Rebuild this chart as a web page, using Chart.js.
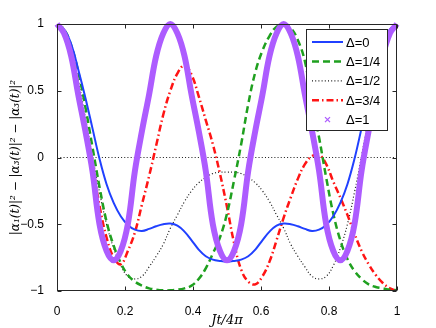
<!DOCTYPE html>
<html>
<head>
<meta charset="utf-8">
<script src="https://cdn.jsdelivr.net/npm/chart.js@4.4.1/dist/chart.umd.min.js"></script>
<style>
    html, body { margin: 0; padding: 0; background: #fff; }
    canvas { display: block; }
</style>
</head>
<body>
<canvas id="chart" width="436" height="328"></canvas>
<script>
// sample times Jt/4pi (every 1/48)
const tValues = [0, 0.0208, 0.0417, 0.0625, 0.0833, 0.1042, 0.125, 0.1458, 0.1667, 0.1875, 0.2083, 0.2292,
    0.25, 0.2708, 0.2917, 0.3125, 0.3333, 0.3542, 0.375, 0.3958, 0.4167, 0.4375, 0.4583, 0.4792,
    0.5, 0.5208, 0.5417, 0.5625, 0.5833, 0.6042, 0.625, 0.6458, 0.6667, 0.6875, 0.7083, 0.7292,
    0.75, 0.7708, 0.7917, 0.8125, 0.8333, 0.8542, 0.875, 0.8958, 0.9167, 0.9375, 0.9583, 0.9792, 1];

const delta0 = [1.0, 0.96, 0.85, 0.66, 0.45, 0.22, -0.01, -0.20, -0.34, -0.44, -0.505, -0.54,
    -0.55, -0.535, -0.515, -0.50, -0.495, -0.51, -0.555, -0.62, -0.69, -0.74, -0.765, -0.775,
    -0.78, -0.775, -0.765, -0.74, -0.69, -0.62, -0.555, -0.51, -0.495, -0.50, -0.515, -0.535,
    -0.55, -0.54, -0.505, -0.44, -0.34, -0.20, -0.01, 0.22, 0.45, 0.66, 0.85, 0.96, 1.0];

const delta14 = [1.0, 0.96, 0.84, 0.64, 0.38, 0.08, -0.22, -0.48, -0.66, -0.79, -0.88, -0.93,
    -0.96, -0.98, -0.99, -0.995, -0.995, -0.99, -0.98, -0.96, -0.91, -0.83, -0.72, -0.60,
    -0.42, -0.17, 0.10, 0.40, 0.64, 0.80, 0.91, 0.98, 0.995, 0.97, 0.88, 0.72,
    0.42, 0.15, -0.15, -0.42, -0.62, -0.76, -0.85, -0.91, -0.95, -0.97, -0.98, -0.99, -0.995];

const delta12 = [1.0, 0.95, 0.81, 0.58, 0.30, 0.01, -0.26, -0.50, -0.68, -0.81, -0.89, -0.91,
    -0.89, -0.82, -0.74, -0.65, -0.53, -0.43, -0.33, -0.25, -0.19, -0.15, -0.12, -0.11,
    -0.11, -0.11, -0.12, -0.15, -0.19, -0.25, -0.33, -0.43, -0.53, -0.65, -0.74, -0.82,
    -0.89, -0.91, -0.89, -0.81, -0.68, -0.50, -0.26, 0.01, 0.30, 0.58, 0.81, 0.95, 1.0];

const delta34 = [1.0, 0.94, 0.78, 0.51, 0.24, -0.05, -0.36, -0.60, -0.75, -0.80, -0.70, -0.56,
    -0.35, -0.14, 0.09, 0.32, 0.50, 0.63, 0.69, 0.62, 0.46, 0.28, 0.10, -0.12,
    -0.37, -0.64, -0.84, -0.93, -0.95, -0.89, -0.78, -0.62, -0.45, -0.30, -0.16, -0.05,
    0.01, 0.02, -0.05, -0.18, -0.30, -0.43, -0.57, -0.70, -0.80, -0.88, -0.94, -0.98, -1.0];

const delta1 = [1.0, 0.93, 0.76, 0.47, 0.20, -0.10, -0.50, -0.70, -0.77, -0.70, -0.50, -0.10,
    0.20, 0.47, 0.76, 0.93, 1.0, 0.93, 0.76, 0.47, 0.20, -0.10, -0.50, -0.70,
    -0.77, -0.70, -0.50, -0.10, 0.20, 0.47, 0.76, 0.93, 1.0, 0.93, 0.76, 0.47,
    0.20, -0.10, -0.50, -0.70, -0.77, -0.70, -0.50, -0.10, 0.20, 0.47, 0.76, 0.93, 1.0];

const zeroLineT = [0, 1];
const zeroLineY = [0, 0];

const seriesLabels = ['Δ=0', 'Δ=1/4', 'Δ=1/2', 'Δ=3/4', 'Δ=1'];
const xTicks = [0, 0.2, 0.4, 0.6, 0.8, 1];
const yTicks = [-1, -0.5, 0, 0.5, 1];

const colors = {
    blue: '#2040ff',
    green: '#1fa01f',
    black: '#1a1a1a',
    red: '#ff1414',
    purple: '#ad5cff',
};

const tickFont = { family: "'Liberation Sans', Arial, sans-serif", size: 12 };

function toPoints(xs, ys) {
    return xs.map((x, i) => ({ x, y: ys[i] }));
}

function formatTick(value) {
    return String(value).replace('-', '\u2212');
}

const legendItems = [
    { label: seriesLabels[0], color: colors.blue, width: 2, dash: [] },
    { label: seriesLabels[1], color: colors.green, width: 2.5, dash: [7, 4] },
    { label: seriesLabels[2], color: colors.black, width: 1.2, dash: [1, 2.2] },
    { label: seriesLabels[3], color: colors.red, width: 2.5, dash: [7, 3, 1.5, 3] },
    { label: seriesLabels[4], color: colors.purple, marker: true },
];

const framePlugin = {
    id: 'frame',
    afterDatasetsDraw(chart) {
        const { ctx, chartArea: area, scales } = chart;
        ctx.save();
        ctx.strokeStyle = '#262626';
        ctx.lineWidth = 1;
        ctx.setLineDash([]);
        const l = Math.round(area.left) + 0.5;
        const r = Math.round(area.right) - 0.5;
        const t = Math.round(area.top) + 0.5;
        const b = Math.round(area.bottom) - 0.5;
        ctx.strokeRect(l, t, r - l, b - t);

        ctx.beginPath();
        xTicks.forEach((v) => {
            const px = Math.round(scales.x.getPixelForValue(v)) + 0.5;
            ctx.moveTo(px, b);
            ctx.lineTo(px, b - 4);
            ctx.moveTo(px, t);
            ctx.lineTo(px, t + 4);
        });
        yTicks.forEach((v) => {
            const py = Math.round(scales.y.getPixelForValue(v)) + 0.5;
            ctx.moveTo(l, py);
            ctx.lineTo(l + 4, py);
            ctx.moveTo(r, py);
            ctx.lineTo(r - 4, py);
        });
        ctx.stroke();
        ctx.restore();
    },
};

const boxLegendPlugin = {
    id: 'boxLegend',
    afterDraw(chart) {
        const { ctx, chartArea: area } = chart;
        const boxRight = Math.round(area.right) - 9;
        const boxTop = Math.round(area.top) + 5;
        const boxWidth = 82;
        const boxHeight = 102;
        const left = boxRight - boxWidth;

        ctx.save();
        ctx.fillStyle = '#fff';
        ctx.fillRect(left, boxTop, boxWidth, boxHeight);
        ctx.strokeStyle = '#262626';
        ctx.lineWidth = 1;
        ctx.strokeRect(left + 0.5, boxTop + 0.5, boxWidth - 1, boxHeight - 1);

        ctx.font = "13px 'Liberation Sans', Arial, sans-serif";
        ctx.textBaseline = 'middle';
        ctx.fillStyle = '#000';

        legendItems.forEach((item, i) => {
            const y = boxTop + 13 + i * 19.4;
            const x0 = left + 6;
            const x1 = left + 37;
            if (item.marker) {
                const cx = (x0 + x1) / 2;
                ctx.strokeStyle = item.color;
                ctx.lineWidth = 1.3;
                ctx.setLineDash([]);
                ctx.beginPath();
                ctx.moveTo(cx - 2.5, y - 2.5);
                ctx.lineTo(cx + 2.5, y + 2.5);
                ctx.moveTo(cx + 2.5, y - 2.5);
                ctx.lineTo(cx - 2.5, y + 2.5);
                ctx.stroke();
            } else {
                ctx.strokeStyle = item.color;
                ctx.lineWidth = item.width;
                ctx.setLineDash(item.dash);
                ctx.beginPath();
                ctx.moveTo(x0, y);
                ctx.lineTo(x1, y);
                ctx.stroke();
            }
            ctx.fillStyle = '#000';
            ctx.fillText(item.label, left + 40, y + 1);
        });
        ctx.restore();
    },
};

const lineDefaults = {
    pointRadius: 0,
    fill: false,
    tension: 0.4,
};

new Chart(document.getElementById('chart'), {
    type: 'line',
    data: {
        datasets: [
            {
                ...lineDefaults,
                label: seriesLabels[4],
                data: toPoints(tValues, delta1),
                borderColor: colors.purple,
                borderWidth: 6,
                order: 0,
                clip: 6,
            },
            {
                ...lineDefaults,
                label: seriesLabels[0],
                data: toPoints(tValues, delta0),
                borderColor: colors.blue,
                borderWidth: 2,
                order: 1,
            },
            {
                ...lineDefaults,
                label: seriesLabels[1],
                data: toPoints(tValues, delta14),
                borderColor: colors.green,
                borderWidth: 2.5,
                borderDash: [7, 4],
                order: 2,
            },
            {
                ...lineDefaults,
                label: seriesLabels[3],
                data: toPoints(tValues, delta34),
                borderColor: colors.red,
                borderWidth: 2.5,
                borderDash: [7, 3, 1.5, 3],
                order: 3,
            },
            {
                ...lineDefaults,
                label: seriesLabels[2],
                data: toPoints(tValues, delta12),
                borderColor: colors.black,
                borderWidth: 1.2,
                borderDash: [1, 2.2],
                order: 4,
            },
            {
                ...lineDefaults,
                label: 'zero',
                data: toPoints(zeroLineT, zeroLineY),
                borderColor: colors.black,
                borderWidth: 1.2,
                borderDash: [1, 2.2],
                order: 5,
            },
        ],
    },
    options: {
        responsive: false,
        animation: false,
        devicePixelRatio: 1,
        layout: { padding: { left: 0, top: 24, right: 39, bottom: 0 } },
        plugins: {
            legend: { display: false },
            tooltip: { enabled: false },
        },
        scales: {
            x: {
                type: 'linear',
                min: 0,
                max: 1,
                afterBuildTicks(scale) {
                    scale.ticks = xTicks.map((value) => ({ value }));
                },
                afterFit(scale) {
                    scale.height = 37;
                },
                ticks: {
                    autoSkip: false,
                    maxRotation: 0,
                    padding: 5,
                    color: '#000',
                    font: tickFont,
                    callback: (value) => formatTick(value),
                },
                grid: { display: false },
                border: { display: false },
                title: {
                    display: true,
                    text: 'Jt/4π',
                    color: '#000',
                    font: { family: "'DejaVu Serif', 'Liberation Serif', serif", size: 13, style: 'italic' },
                    padding: { top: 0, bottom: 0 },
                },
            },
            y: {
                type: 'linear',
                min: -1,
                max: 1,
                afterBuildTicks(scale) {
                    scale.ticks = yTicks.map((value) => ({ value }));
                },
                afterFit(scale) {
                    scale.width = 57;
                },
                ticks: {
                    autoSkip: false,
                    padding: 5,
                    color: '#000',
                    font: tickFont,
                    callback: (value) => formatTick(value),
                },
                grid: { display: false },
                border: { display: false },
                title: {
                    display: true,
                    text: '|α₁(t)|² − |α₃(t)|² − |α₃(t)|²',
                    color: '#000',
                    font: { family: "'DejaVu Serif', 'Liberation Serif', serif", size: 12, style: 'italic' },
                    padding: { top: 9, bottom: 0 },
                },
            },
        },
    },
    plugins: [framePlugin, boxLegendPlugin],
});
</script>
</body>
</html>
